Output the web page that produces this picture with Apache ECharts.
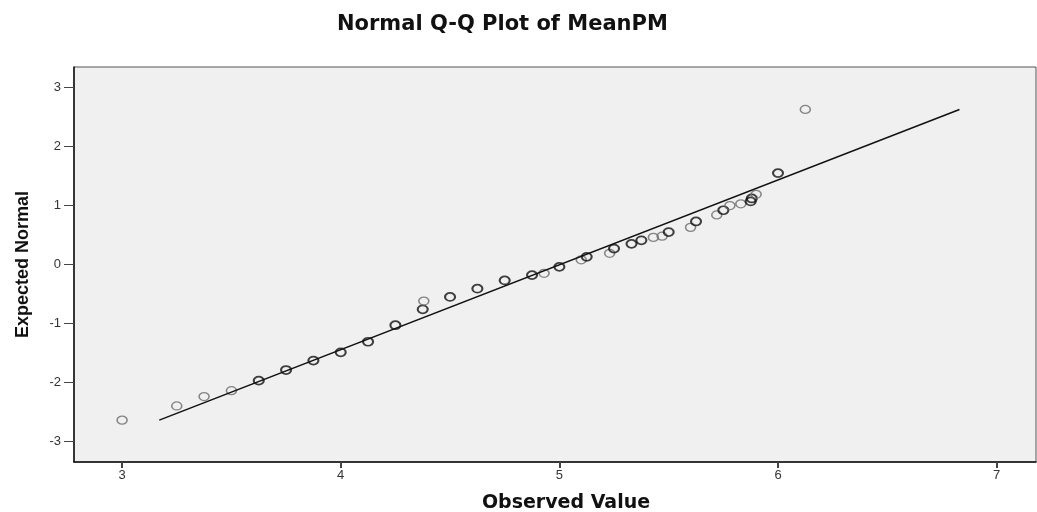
<!DOCTYPE html>
<html>
<head>
<meta charset="utf-8">
<script src="https://cdn.jsdelivr.net/npm/echarts@6/dist/echarts.min.js"></script>
<style>
html,body{margin:0;padding:0;background:#fff;}
#qq{width:1037px;height:512px;}
</style>
</head>
<body>
<div id="qq"></div>
<script>
var observed = [3.00, 3.25, 3.375, 3.50, 3.625, 3.75, 3.875, 4.00, 4.125, 4.25,
    4.375, 4.38, 4.50, 4.625, 4.75, 4.875, 4.93, 5.00, 5.10, 5.125,
    5.23, 5.25, 5.33, 5.375, 5.43, 5.47, 5.50, 5.60, 5.625, 5.72,
    5.75, 5.78, 5.83, 5.875, 5.88, 5.90, 6.00, 6.125]
var expected = [-2.64, -2.40, -2.24, -2.14, -1.97, -1.79, -1.63, -1.49, -1.31, -1.03,
    -0.76, -0.62, -0.55, -0.41, -0.27, -0.18, -0.15, -0.04, 0.08, 0.13,
    0.19, 0.27, 0.35, 0.41, 0.46, 0.48, 0.55, 0.63, 0.73, 0.84,
    0.92, 1.00, 1.03, 1.07, 1.12, 1.19, 1.55, 2.63]
// cases drawn on top of each other at that point (estimated from darkness)
var cases = [1, 1, 1, 1, 2, 2, 2, 2, 2, 3,
    3, 1, 3, 3, 3, 2, 1, 3, 1, 2,
    1, 2, 2, 2, 1, 1, 2, 1, 2, 1,
    2, 1, 1, 2, 2, 1, 3, 1]

// reference line end points
var lineX = [3.17, 6.83]
var lineY = [-2.64, 2.63]

var xTicks = [3, 4, 5, 6, 7]
var yTicks = [-3, -2, -1, 0, 1, 2, 3]

var points = observed.map(function(v, i){
    return {
        value: [v, expected[i]],
        itemStyle: {
            color: 'rgba(0,0,0,0)',
            borderColor: cases[i] > 1 ? '#111' : '#6a6a6a',
            borderWidth: cases[i] > 1 ? 1.9 : 1.4
        }
    }
})

var myChart = echarts.init(document.getElementById('qq'))
var option = {
    animation: false,
    title: {
        text: 'Normal Q-Q Plot of MeanPM',
        left: 332,
        top: 9,
        textStyle: {
            fontFamily: 'DejaVu Sans',
            fontSize: 21,
            fontWeight: 'bold',
            color: '#111'
        }
    },
    grid: {
        left: 74,
        top: 67,
        right: 1,
        bottom: 50,
        containLabel: false,
        outerBoundsMode: 'none',
        show: true,
        backgroundColor: '#f0f0f0',
        borderColor: '#555',
        borderWidth: 1
    },
    xAxis: {
        type: 'value',
        min: 2.78,
        max: 7.18,
        name: 'Observed Value',
        nameLocation: 'middle',
        nameGap: 32,
        nameTextStyle: {
            fontFamily: 'DejaVu Sans',
            fontSize: 19,
            fontWeight: 'bold',
            color: '#111',
            padding: [0, 0, 0, 22]
        },
        axisLine: { onZero: false, lineStyle: { color: '#111', width: 1.5 } },
        axisTick: {
            show: true,
            length: 6,
            customValues: xTicks,
            lineStyle: { color: '#444', width: 2 }
        },
        axisLabel: {
            customValues: xTicks,
            margin: 7,
            fontFamily: 'Liberation Sans',
            fontSize: 13,
            color: '#333'
        },
        splitLine: { show: false }
    },
    yAxis: {
        type: 'value',
        min: -3.35,
        max: 3.35,
        name: 'Expected Normal',
        nameLocation: 'middle',
        nameGap: 42,
        nameTextStyle: {
            fontFamily: 'Liberation Sans',
            fontSize: 18,
            fontWeight: 'bold',
            color: '#111'
        },
        axisLine: { show: true, onZero: false, lineStyle: { color: '#111', width: 1.5 } },
        axisTick: {
            show: true,
            length: 10,
            customValues: yTicks,
            lineStyle: { color: '#444', width: 1 }
        },
        axisLabel: {
            customValues: yTicks,
            margin: 13,
            fontFamily: 'Liberation Sans',
            fontSize: 13,
            color: '#333'
        },
        splitLine: { show: false }
    },
    series: [
        {
            name: 'line',
            type: 'line',
            data: [[lineX[0], lineY[0]], [lineX[1], lineY[1]]],
            showSymbol: false,
            silent: true,
            lineStyle: { color: '#111', width: 1.5 }
        },
        {
            name: 'MeanPM',
            type: 'scatter',
            symbol: 'circle',
            symbolSize: [10, 8],
            data: points
        }
    ]
}
myChart.setOption(option)
</script>
</body>
</html>
